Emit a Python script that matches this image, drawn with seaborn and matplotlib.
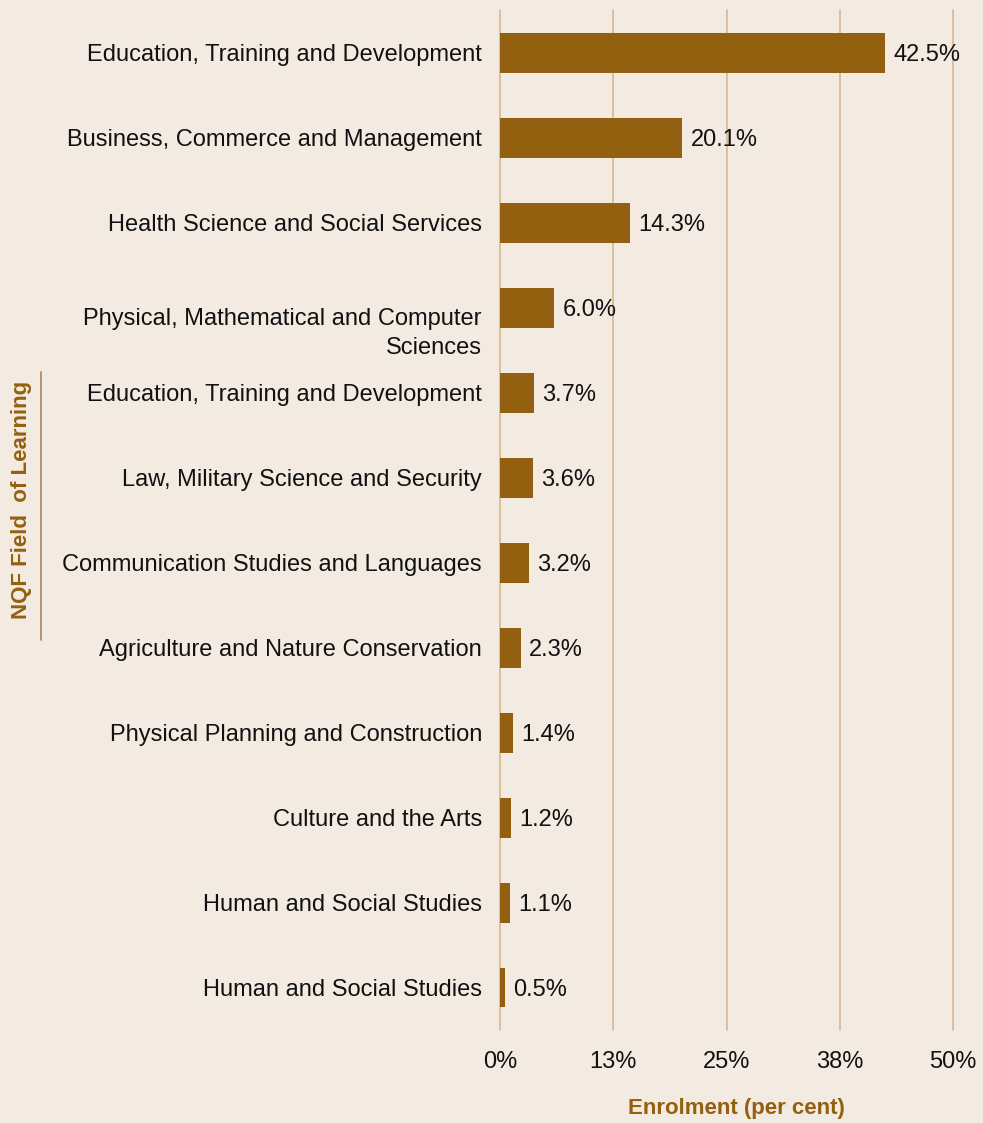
import numpy as np
import pandas as pd
import seaborn as sns
from matplotlib import pyplot as plt
from matplotlib.lines import Line2D

# 数据
fields = ['Education, Training and Development',
          'Business, Commerce and Management',
          'Health Science and Social Services',
          'Physical, Mathematical and Computer\nSciences',
          'Education, Training and Development',
          'Law, Military Science and Security',
          'Communication Studies and Languages',
          'Agriculture and Nature Conservation',
          'Physical Planning and Construction',
          'Culture and the Arts',
          'Human and Social Studies',
          'Human and Social Studies']
enrolment = [42.5, 20.1, 14.3, 6.0, 3.7, 3.6, 3.2, 2.3, 1.4, 1.2, 1.1, 0.5]
x_ticks = [0, 12.5, 25, 37.5, 50]
x_tick_labels = ['0%', '13%', '25%', '38%', '50%']

bg = '#F3EAE1'
bar_color = '#93600F'
grid_color = '#D4B48A'
label_color = '#93600F'
fs = 17

sns.set_style('white')
plt.rcParams['font.family'] = ['Liberation Sans', 'DejaVu Sans']

# 类别名有重复，用序号作为分类键
df = pd.DataFrame({'slot': [str(i) for i in range(len(fields))], 'value': enrolment})

fig = plt.figure(figsize=(9.83, 11.23), dpi=100, facecolor=bg)
ax = fig.add_axes([0.5087, 0.0828, 0.9695 - 0.5087, 0.991 - 0.0828])
ax.set_facecolor(bg)

for t in x_ticks:
    ax.axvline(t, color=grid_color, lw=1.1, zorder=0, clip_on=False)

sns.barplot(data=df, x='value', y='slot', orient='h', color=bar_color,
            saturation=1, width=0.47, linewidth=0, ax=ax, zorder=2)

labels = ax.bar_label(ax.containers[0], fmt='%.1f%%', padding=6, fontsize=fs, color='#111111')
for lb in labels:
    lb.set_va('center_baseline')

ax.set_xlim(0, 50)
ax.set_xticks(x_ticks)
ax.set_xticklabels(x_tick_labels, fontsize=fs, color='#111111')
ax.set_yticks(range(len(fields)))
ax.set_yticklabels(fields, fontsize=fs, color='#111111', ha='right')
ax.tick_params(axis='x', length=0, pad=15)
ax.tick_params(axis='y', length=0, pad=13)
for lbl in ax.get_yticklabels():
    if '\n' in lbl.get_text():
        lbl.set_va('top')
        lbl.set_linespacing(1.45)
        lbl.set_y(3 - 0.1)

sns.despine(ax=ax, left=True, bottom=True)
ax.set_xlabel('')
ax.set_ylabel('')

fig.text(0.749, 0.004, 'Enrolment (per cent)', ha='center', va='bottom',
         fontsize=16, fontweight='bold', color=label_color)
fig.text(0.022, 0.555, 'NQF Field  of Learning', ha='center', va='center', rotation=90,
         fontsize=16, fontweight='bold', color=label_color)
fig.add_artist(Line2D([0.0417, 0.0417], [0.430, 0.669], color='#B8956A', lw=1.4))

plt.savefig('out.png', dpi=100, facecolor=bg)
